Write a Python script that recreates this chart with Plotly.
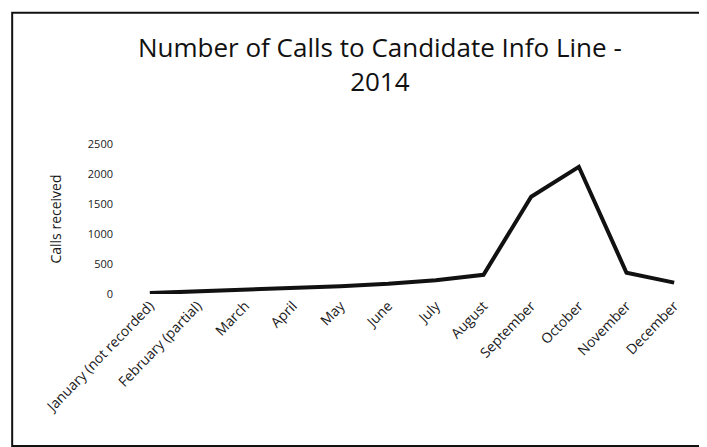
import plotly.graph_objects as go

months = ["January (not recorded)", "February (partial)", "March", "April", "May",
          "June", "July", "August", "September", "October", "November", "December"]
calls = [15, 40, 70, 100, 130, 170, 230, 320, 1620, 2120, 355, 190]
y_ticks = [0, 500, 1000, 1500, 2000, 2500]

fig = go.Figure()
fig.add_trace(go.Scatter(x=months, y=calls, mode="lines",
                         line=dict(color="#111111", width=4), showlegend=False))

fig.update_layout(
    width=707, height=447,
    margin=dict(l=118, r=17, t=136, b=161),
    paper_bgcolor="white", plot_bgcolor="white",
    font=dict(family="Open Sans, sans-serif", color="#1a1a1a"),
    title=dict(text="Number of Calls to Candidate Info Line -<br>2014",
               x=0.526, xanchor="center", y=0.89, yanchor="middle",
               font=dict(size=26, color="#111111")),
    xaxis=dict(type="category", range=[-0.5, 11.5], tickangle=-46,
               showgrid=False, showline=False, ticks="",
               tickfont=dict(size=14)),
    yaxis=dict(range=[0, 2500], tickvals=y_ticks, showgrid=False,
               showline=False, zeroline=False, ticks="",
               tickfont=dict(size=11), ticklabelstandoff=12,
               title=dict(text="Calls received", font=dict(size=14), standoff=22)),
)

# chart frame
fig.add_shape(type="rect", xref="paper", yref="paper",
              x0=-0.199, x1=1.017, y0=-1.013, y1=1.875,
              line=dict(color="#111111", width=2))

fig.write_html("out.html")
